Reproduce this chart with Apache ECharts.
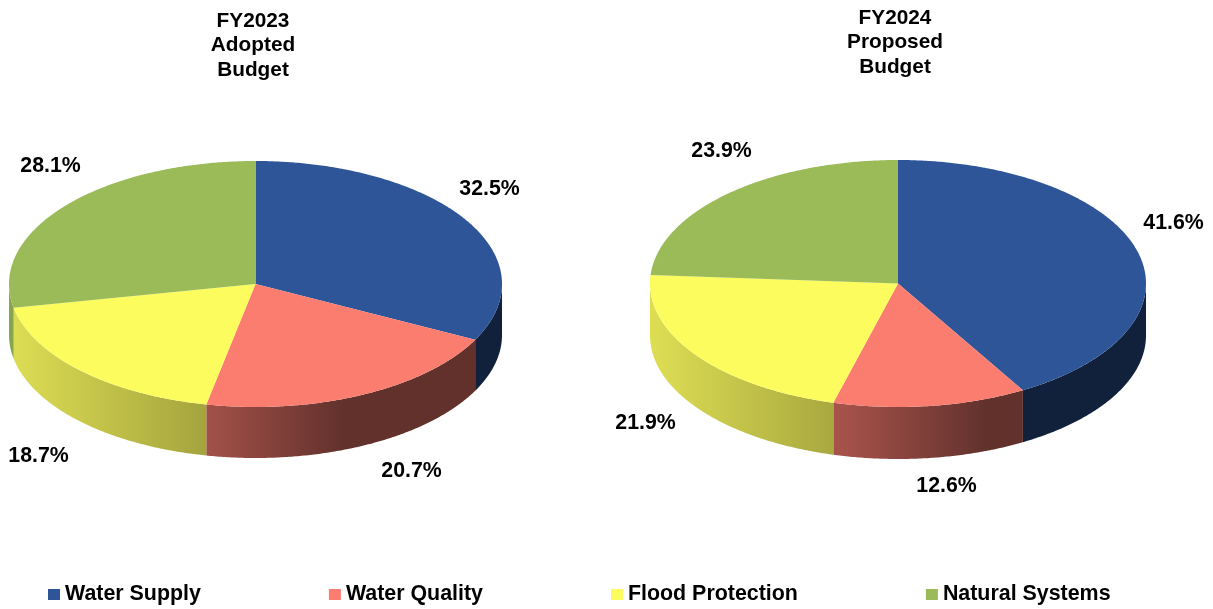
<!DOCTYPE html>
<html>
<head>
<meta charset="utf-8">
<style>html,body{margin:0;padding:0;background:#fff}#c{width:1213px;height:609px}</style>
<script src="https://cdn.jsdelivr.net/npm/echarts@6/dist/echarts.min.js"></script>
</head>
<body>
<div id="c"></div>
<script>
const categories = ['Water Supply', 'Water Quality', 'Flood Protection', 'Natural Systems'];
const fy2023 = [32.5, 20.7, 18.7, 28.1];
const fy2024 = [41.6, 12.6, 21.9, 23.9];
const pieTitles = ['FY2023\nAdopted\nBudget', 'FY2024\nProposed\nBudget'];
const colors = ['#2E5597', '#FA7D70', '#FCFC5F', '#9BBB59'];

const pies = [
  { values: fy2023, cx: 255.5, cy: 284, rx: 246.5, ry: 123, depth: 51,
    labels: [[489.5, 189.5], [411.5, 471.5], [38.5, 456.5], [50.5, 166.5]] },
  { values: fy2024, cx: 898, cy: 283.5, rx: 248, ry: 123.5, depth: 52,
    labels: [[1173.5, 223.5], [946.5, 486.5], [645.5, 423.5], [721.5, 151.5]] }
];
const wallShade = [[0, 0.88], [0.4, 0.65], [0.68, 0.39], [1, 0.39]];

function shade(hex, f) {
  const n = parseInt(hex.slice(1), 16);
  return 'rgb(' + [(n >> 16) & 255, (n >> 8) & 255, n & 255].map(v => Math.round(v * f)).join(',') + ')';
}
function arc(p, a0, a1, dy) {
  const pts = [], n = Math.max(2, Math.ceil((a1 - a0) / 0.5));
  for (let i = 0; i <= n; i++) {
    const a = (a0 + (a1 - a0) * i / n) * Math.PI / 180;
    pts.push([p.cx + p.rx * Math.sin(a), p.cy - p.ry * Math.cos(a) + dy]);
  }
  return pts;
}
function renderSlice(params) {
  const c = params.seriesIndex, p = pies[params.dataIndex];
  const total = p.values.reduce((s, v) => s + v, 0);
  const before = p.values.slice(0, c).reduce((s, v) => s + v, 0);
  const a0 = before / total * 360, a1 = (before + p.values[c]) / total * 360;
  const children = [];
  const w0 = Math.max(a0, 90), w1 = Math.min(a1, 270);
  if (w1 > w0) {
    children.push({
      type: 'polygon', z2: 1, silent: true,
      shape: { points: arc(p, w0, w1, 0).concat(arc(p, w0, w1, p.depth).reverse()) },
      style: { fill: {
        type: 'linear', global: true,
        x: p.cx - p.rx, y: 0, x2: p.cx + p.rx, y2: 0,
        colorStops: wallShade.map(s => ({ offset: s[0], color: shade(colors[c], s[1]) }))
      } }
    });
  }
  children.push({
    type: 'polygon', z2: 5, silent: true,
    shape: { points: [[p.cx, p.cy]].concat(arc(p, a0, a1, 0)) },
    style: { fill: colors[c] }
  });
  children.push({
    type: 'text', z2: 10, silent: true,
    x: p.labels[c][0], y: p.labels[c][1],
    style: { text: p.values[c].toFixed(1) + '%', fill: '#000', align: 'center', verticalAlign: 'middle',
      font: 'bold 21.3px "Liberation Sans", Arial, sans-serif' }
  });
  return { type: 'group', children };
}

const chart = echarts.init(document.getElementById('c'), null, { renderer: 'canvas' });
const titleStyle = { fontFamily: '"Liberation Sans", Arial, sans-serif', fontWeight: 'bold', fontSize: 20.8, lineHeight: 24.5, color: '#000' };
chart.setOption({
  backgroundColor: '#fff',
  animation: false,
  tooltip: { show: false },
  title: [
    { text: pieTitles[0], left: 253, top: 9, textAlign: 'center', padding: 0, textStyle: titleStyle },
    { text: pieTitles[1], left: 895, top: 6, textAlign: 'center', padding: 0, textStyle: titleStyle }
  ],
  legend: {
    data: categories, left: 48, top: 584, padding: 0, itemGap: 128, itemWidth: 12, itemHeight: 11,
    icon: 'rect', selectedMode: false,
    textStyle: { fontFamily: '"Liberation Sans", Arial, sans-serif', fontWeight: 'bold', fontSize: 21.4, color: '#000' }
  },
  series: categories.map((name, c) => ({
    type: 'custom', name, coordinateSystem: 'none', silent: true,
    itemStyle: { color: colors[c] },
    renderItem: renderSlice,
    data: [fy2023[c], fy2024[c]]
  }))
});
</script>
</body>
</html>
